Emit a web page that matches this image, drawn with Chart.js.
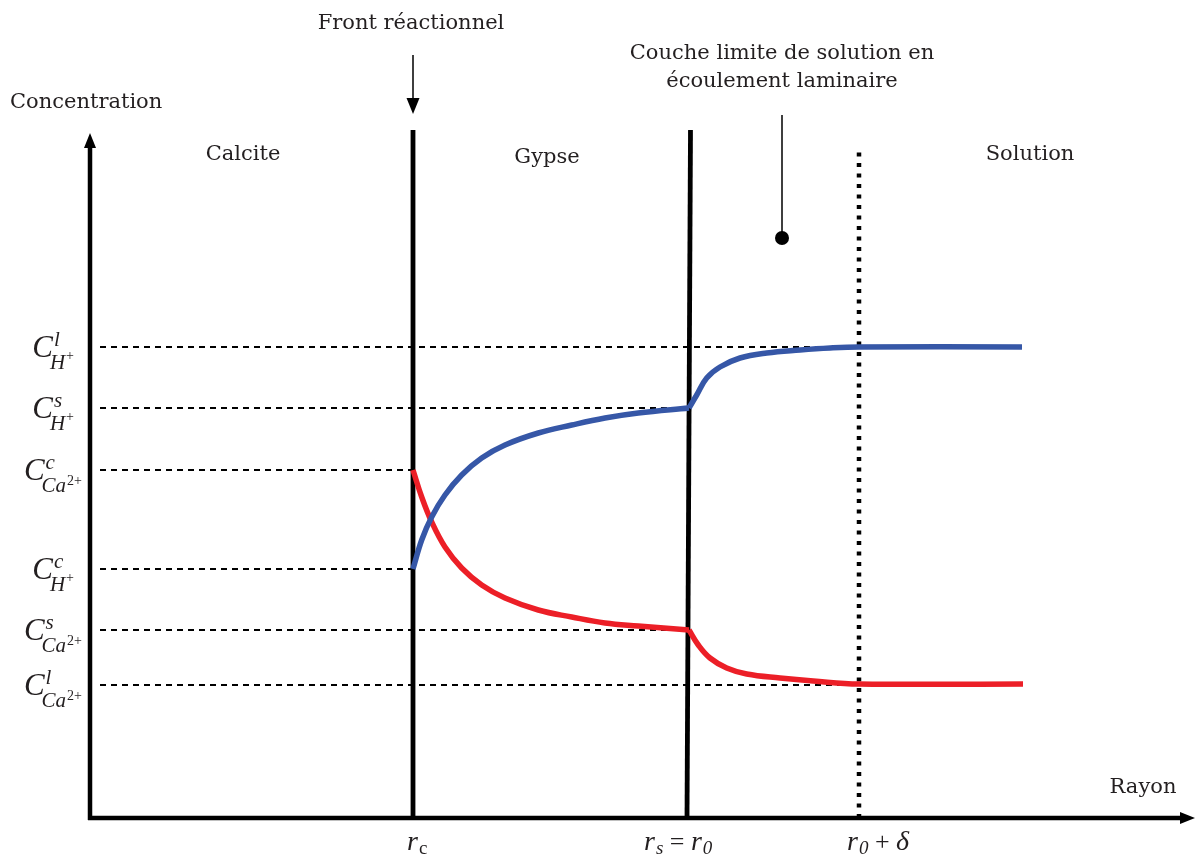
<!DOCTYPE html>
<html>
<head>
<meta charset="utf-8">
<script src="https://cdn.jsdelivr.net/npm/chart.js@4"></script>
<style>
  html, body { margin: 0; padding: 0; background: #fff; }
  #wrap { width: 1197px; height: 855px; }
</style>
</head>
<body>
<div id="wrap"><canvas id="myChart" width="1197" height="855"></canvas></div>
<script>
// radius positions (arbitrary units)
const rc = 3.23;
const rs = 5.99;
const rDelta = 7.69;

// H+ profile: in the gypse layer, then in the boundary layer + solution
const blueGypseX = [3.23, 3.317, 3.417, 3.55, 3.717, 3.917, 4.15, 4.483, 4.817, 5.15, 5.483, 5.99];
const blueGypseY = [2.49, 2.78, 3.01, 3.23, 3.43, 3.60, 3.73, 3.85, 3.93, 4.00, 4.05, 4.10];
const blueLayerX = [5.99, 6.067, 6.167, 6.30, 6.50, 6.767, 7.10, 7.40, 7.69, 9.32];
const blueLayerY = [4.10, 4.23, 4.40, 4.51, 4.60, 4.65, 4.68, 4.70, 4.71, 4.71];

// Ca2+ profile
const redGypseX = [3.23, 3.317, 3.417, 3.55, 3.717, 3.917, 4.15, 4.483, 4.817, 5.15, 5.483, 5.99];
const redGypseY = [3.48, 3.21, 2.96, 2.71, 2.50, 2.33, 2.20, 2.08, 2.01, 1.95, 1.92, 1.88];
const redLayerX = [5.99, 6.083, 6.20, 6.367, 6.567, 6.90, 7.233, 7.69, 9.33];
const redLayerY = [1.88, 1.73, 1.60, 1.50, 1.44, 1.40, 1.37, 1.34, 1.34];

// concentration levels on the y axis
const levelValues = [4.71, 4.10, 3.48, 2.49, 1.88, 1.33];
const levelEnds = [rDelta, rs, rc, rc, rs, rDelta];
const levelSup = ["l", "s", "c", "c", "s", "l"];
const levelSpecies = ["H", "H", "Ca", "H", "Ca", "Ca"];
const levelCharge = ["+", "+", "2+", "+", "2+", "2+"];

// zone labels
const regionNames = ["Calcite", "Gypse", "Solution"];
const regionX = [1.53, 4.57, 9.40];
const regionY = [6.63, 6.60, 6.63];

const ink = "#231f20";
const blue = "#3657a7";
const red = "#ec1f27";

function pts(xs, ys) {
  return xs.map((v, i) => ({ x: v, y: ys[i] }));
}

function curve(xs, ys, color) {
  return {
    data: pts(xs, ys),
    borderColor: color,
    borderWidth: 5.5,
    tension: 0.4,
    borderCapStyle: "butt",
  };
}

const datasets = [
  curve(blueGypseX, blueGypseY, blue),
  curve(blueLayerX, blueLayerY, blue),
  curve(redGypseX, redGypseY, red),
  curve(redLayerX, redLayerY, red),
];

// dashed guides from the y axis
levelValues.forEach((v, i) => {
  datasets.push({
    data: [{ x: 0.1, y: v }, { x: levelEnds[i], y: v }],
    borderColor: "#000",
    borderWidth: 1.8,
    borderDash: [6, 5],
  });
});

// reaction front and gypse/solution interface
datasets.push({
  data: [{ x: rc, y: 0 }, { x: rc, y: 6.88 }],
  borderColor: "#000",
  borderWidth: 4.8,
});
datasets.push({
  data: [{ x: 5.97, y: 0 }, { x: 6.005, y: 6.88 }],
  borderColor: "#000",
  borderWidth: 4.8,
});
// edge of the boundary layer
datasets.push({
  data: [{ x: rDelta, y: 0 }, { x: rDelta, y: 6.71 }],
  borderColor: "#000",
  borderWidth: 4.5,
  borderDash: [4, 6.5],
});
// pointer for the boundary layer label
datasets.push({
  data: [{ x: 6.92, y: 7.03 }, { x: 6.92, y: 5.80 }],
  borderColor: "#000",
  borderWidth: 1.5,
  pointRadius: [0, 7],
  pointBackgroundColor: "#000",
  pointBorderWidth: 0,
});
// pointer for the reaction front
datasets.push({
  data: [{ x: rc, y: 7.63 }, { x: rc, y: 7.15 }],
  borderColor: "#000",
  borderWidth: 1.5,
});

function arrowHead(ctx, tx, ty, dir, len, half) {
  ctx.beginPath();
  if (dir === "down") {
    ctx.moveTo(tx, ty);
    ctx.lineTo(tx - half, ty - len);
    ctx.lineTo(tx + half, ty - len);
  } else if (dir === "up") {
    ctx.moveTo(tx, ty);
    ctx.lineTo(tx - half, ty + len);
    ctx.lineTo(tx + half, ty + len);
  } else {
    ctx.moveTo(tx, ty);
    ctx.lineTo(tx - len, ty - half);
    ctx.lineTo(tx - len, ty + half);
  }
  ctx.closePath();
  ctx.fill();
}

// draws a run of [text, font, dy, gap] pieces starting at x0
function drawRun(ctx, x0, base, parts) {
  let cx = x0;
  parts.forEach((p) => {
    ctx.font = p[1];
    ctx.fillText(p[0], cx + (p[3] || 0), base + p[2]);
    cx += ctx.measureText(p[0]).width + (p[3] || 0);
  });
}

const diagram = {
  id: "diagram",
  afterDatasetsDraw(chart) {
    const { ctx, scales } = chart;
    const x = scales.x;
    const y = scales.y;
    ctx.save();
    ctx.fillStyle = "#000";
    ctx.strokeStyle = "#000";

    // axes
    const x0 = x.getPixelForValue(0);
    const y0 = y.getPixelForValue(0);
    const yTip = y.getPixelForValue(6.85);
    const xTip = x.getPixelForValue(11.05);
    ctx.lineWidth = 4.5;
    ctx.beginPath();
    ctx.moveTo(x0, y0 + 2);
    ctx.lineTo(x0, yTip + 10);
    ctx.moveTo(x0 - 2, y0);
    ctx.lineTo(xTip - 10, y0);
    ctx.stroke();
    arrowHead(ctx, x0, yTip, "up", 15, 6);
    arrowHead(ctx, xTip, y0, "right", 15, 6);

    // reaction front arrow head
    arrowHead(ctx, x.getPixelForValue(rc), y.getPixelForValue(7.04), "down", 16, 6.5);

    // plain labels
    ctx.fillStyle = ink;
    ctx.textBaseline = "middle";
    ctx.textAlign = "center";
    ctx.font = "21px 'DejaVu Serif'";
    regionNames.forEach((n, i) => {
      ctx.fillText(n, x.getPixelForValue(regionX[i]), y.getPixelForValue(regionY[i]));
    });
    ctx.fillText("Front réactionnel", x.getPixelForValue(3.21), y.getPixelForValue(7.94));
    ctx.fillText("Couche limite de solution en", x.getPixelForValue(6.92), y.getPixelForValue(7.64));
    ctx.fillText("écoulement laminaire", x.getPixelForValue(6.92), y.getPixelForValue(7.36));
    ctx.fillText("Rayon", x.getPixelForValue(10.53), y.getPixelForValue(0.30));
    ctx.textAlign = "left";
    ctx.fillText("Concentration", x.getPixelForValue(-0.80), y.getPixelForValue(7.15));

    // y level labels: C with superscript and subscript
    ctx.textBaseline = "alphabetic";
    const fC = "italic 31px 'Liberation Serif'";
    const fS = "italic 21px 'Liberation Serif'";
    const fQ = "14px 'Liberation Serif'";
    levelValues.forEach((v, i) => {
      const py = y.getPixelForValue(v);
      const isH = levelSpecies[i] === "H";
      ctx.font = fC;
      const wC = ctx.measureText("C").width;
      ctx.font = fS;
      const wSub = ctx.measureText(levelSpecies[i]).width;
      ctx.font = fQ;
      const wQ = ctx.measureText(levelCharge[i]).width;
      const right = x.getPixelForValue(isH ? -0.16 : -0.08);
      const left = right - (wC - 3 + wSub + 1 + wQ);
      ctx.font = fC;
      ctx.fillText("C", left, py + 10);
      ctx.font = fS;
      ctx.fillText(levelSup[i], left + wC + 1, py - 1);
      ctx.fillText(levelSpecies[i], left + wC - 3, py + 22);
      ctx.font = fQ;
      ctx.fillText(levelCharge[i], left + wC - 3 + wSub + 1, py + (isH ? 13 : 15));
    });

    // x labels
    const fR = "italic 28px 'Liberation Serif'";
    const fRs = "italic 19px 'Liberation Serif'";
    const fUp = "19px 'Liberation Serif'";
    const fOp = "26px 'Liberation Serif'";
    const base = y0 + 32;
    drawRun(ctx, x.getPixelForValue(rc) - 6, base, [["r", fR, 0], ["c", fUp, 4, 1]]);
    drawRun(ctx, x.getPixelForValue(rs) - 45, base, [
      ["r", fR, 0], ["s", fRs, 4, 1], [" = ", fOp, 0], ["r", fR, 0], ["0", fRs, 4, 1],
    ]);
    drawRun(ctx, x.getPixelForValue(rDelta) - 12, base, [
      ["r", fR, 0], ["0", fRs, 4, 1], [" + ", fOp, 0], ["δ", fR, 0],
    ]);

    ctx.restore();
  },
};

const ctx = document.getElementById("myChart").getContext("2d");
const myChart = new Chart(ctx, {
  type: "line",
  data: { datasets: datasets },
  options: {
    responsive: false,
    animation: false,
    layout: { autoPadding: false, padding: { left: 90, right: 2, top: 0, bottom: 37 } },
    elements: { point: { radius: 0 }, line: { tension: 0 } },
    plugins: { legend: { display: false }, tooltip: { enabled: false } },
    scales: {
      x: { type: "linear", min: 0, max: 11.05, display: false },
      y: { type: "linear", min: 0, max: 8.18, display: false },
    },
  },
  plugins: [diagram],
});
</script>
</body>
</html>
